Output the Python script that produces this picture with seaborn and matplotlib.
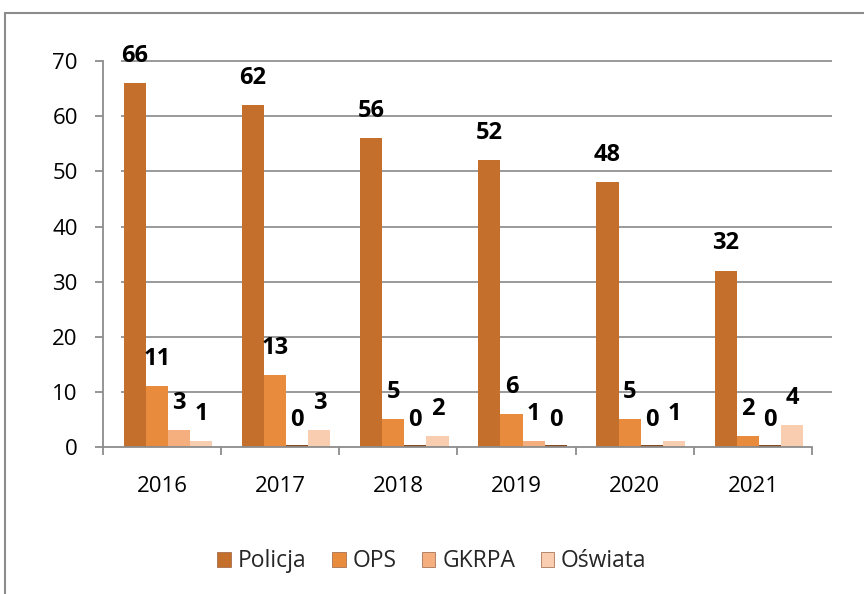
import matplotlib
matplotlib.use("Agg")
import matplotlib.pyplot as plt
import seaborn as sns
import pandas as pd
from matplotlib.patches import Rectangle

years = ["2016", "2017", "2018", "2019", "2020", "2021"]
series = ["Policja", "OPS", "GKRPA", "Oświata"]
policja = [66, 62, 56, 52, 48, 32]
ops = [11, 13, 5, 6, 5, 2]
gkrpa = [3, 0, 0, 1, 0, 0]
oswiata = [1, 3, 2, 0, 1, 4]
colors = ["#C46F2C", "#E98B3C", "#F5AE7E", "#F9CDB0"]

rows = []
for name, vals in zip(series, [policja, ops, gkrpa, oswiata]):
    for y, v in zip(years, vals):
        rows.append({"Rok": y, "Seria": name, "Wartość": v})
df = pd.DataFrame(rows)

sns.set_theme(style="white")
plt.rcParams["font.family"] = ["Open Sans", "DejaVu Sans"]

fig = plt.figure(figsize=(8.64, 5.94), dpi=100)
ax = fig.add_axes([0.119, 0.2475, 0.821, 0.6495])

sns.barplot(data=df, x="Rok", y="Wartość", hue="Seria", hue_order=series,
            palette=colors, width=0.75, ax=ax, legend=False,
            edgecolor="none", saturation=1)

for cont, col in zip(ax.containers, colors):
    for b in cont:
        b.set_x(b.get_x() + 0.05)
    labels = [f"{int(b.get_height())}" for b in cont]
    ax.bar_label(cont, labels=labels, padding=11, fontsize=17,
                 fontweight="bold", color="black")
    for b in cont:
        if b.get_height() == 0:
            b.set_height(0.35)
            b.set_facecolor("#8A4B1E")

ax.set_ylim(0, 70)
ax.set_yticks(range(0, 71, 10))
ax.set_xlim(-0.5, 5.5)
ax.hlines(range(10, 71, 10), -0.35, 5.67, colors="#9A9A9A", linewidth=1.4,
          clip_on=False, zorder=0)
ax.set_axisbelow(True)
for s in ["top", "right"]:
    ax.spines[s].set_visible(False)
for s in ["left", "bottom"]:
    ax.spines[s].set_color("#8C8C8C")
    ax.spines[s].set_linewidth(1.3)
ax.set_xlabel("")
ax.set_ylabel("")
ax.tick_params(axis="both", labelsize=16, colors="black")
ax.tick_params(axis="y", left=True, length=6, color="#8C8C8C", width=1.3, pad=12)
ax.set_xticks([0, 1, 2, 3, 4, 5])
ax.set_xticks([-0.5, 0.5, 1.5, 2.5, 3.5, 4.5, 5.5], minor=True)
ax.tick_params(axis="x", which="major", bottom=False, length=0, pad=21)
ax.tick_params(axis="x", which="minor", bottom=True, length=6, width=1.3, color="#8C8C8C")

handles = [Rectangle((0, 0), 1, 1, facecolor=c, edgecolor="#9A6040", linewidth=0.5) for c in colors]
fig.legend(handles, series, loc="center", bbox_to_anchor=(0.5, 0.055), ncol=4,
           frameon=False, fontsize=16.5, handlelength=0.6, handleheight=0.6,
           handletextpad=0.3, columnspacing=1.1)

fig.patches.append(Rectangle((0.006, -0.05), 1.1, 1.028, transform=fig.transFigure,
                             fill=False, edgecolor="#8C8C8C", linewidth=1.5))

fig.savefig("out.png", dpi=100)
